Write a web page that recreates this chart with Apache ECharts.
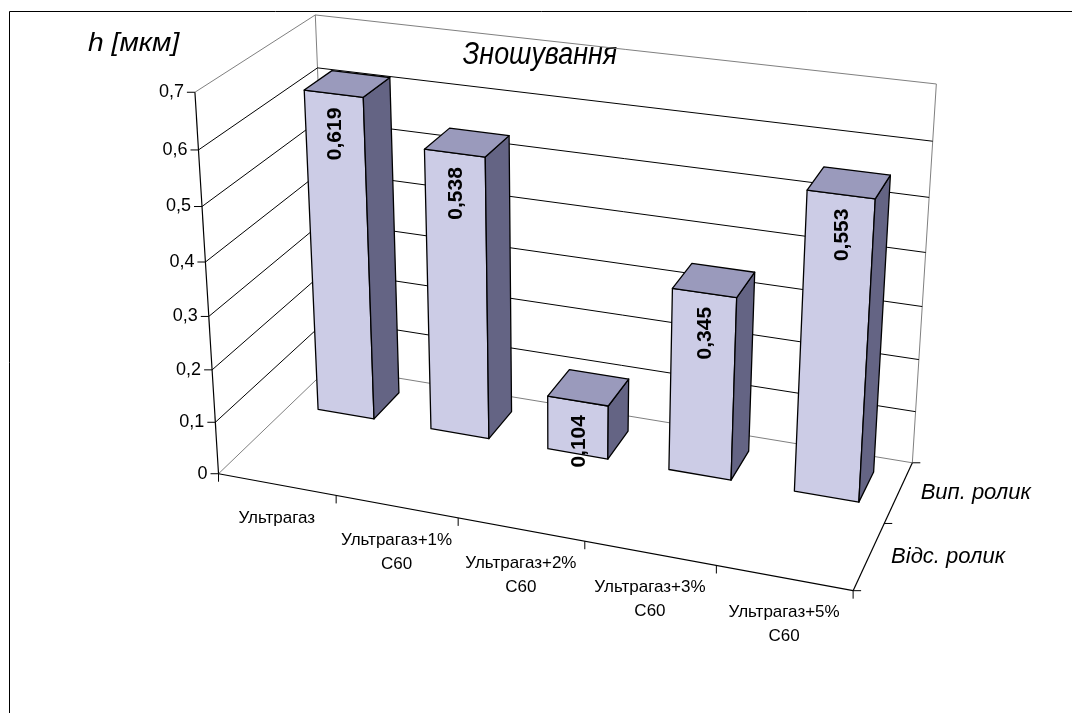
<!DOCTYPE html>
<html>
<head>
<meta charset="utf-8">
<script src="https://cdn.jsdelivr.net/npm/echarts@6/dist/echarts.min.js"></script>
<style>
  html, body { margin: 0; padding: 0; background: #fff; }
  #chart { width: 1072px; height: 713px; }
</style>
</head>
<body>
<div id="chart"></div>
<script>
// ---- data ----
const categories = ['Ультрагаз', 'Ультрагаз+1% C60', 'Ультрагаз+2% C60', 'Ультрагаз+3% C60', 'Ультрагаз+5% C60'];
const rows = ['Відс. ролик', 'Вип. ролик'];
const vypRolyk = [0.619, 0.538, 0.104, 0.345, 0.553];
const valueTicks = [0, 0.1, 0.2, 0.3, 0.4, 0.5, 0.6, 0.7];
const chartTitle = 'Зношування';
const valueAxisName = 'h [мкм]';

// ---- 3D view ----
const Y_MAX = 0.7;
const FONT = '"Liberation Sans", Arial, sans-serif';

// Perspective camera: homogeneous 3x4 matrix acting on (category, value*10, row, 1),
// result in normalised screen units around the chart centre.
const CAM = [
  0.2261451, -0.0004306, 0.0848096, -0.5922936,
  0.0538443, -0.1462515, -0.1487214, 0.3307126,
  -0.0179896, -0.0092152, 0.0491988
];
const CX = 536, CY = 356;

function project(x, v, z) {
  const y = v * 10;
  const w = CAM[8] * x + CAM[9] * y + CAM[10] * z + 1;
  const un = (CAM[0] * x + CAM[1] * y + CAM[2] * z + CAM[3]) / w;
  const vn = (CAM[4] * x + CAM[5] * y + CAM[6] * z + CAM[7]) / w;
  return [un * CX + CX, vn * CY + CY];
}

// bar footprint in category / row units
const BAR_HALF_W = 0.25;
const BAR_HALF_D = 0.25;
const BAR_ROW = 1; // bars stand in the "Вип. ролик" row

const GREY = '#808080';
const nCat = categories.length;
const nRow = rows.length;

function line(p, q, stroke, lw) {
  return { type: 'line', shape: { x1: p[0], y1: p[1], x2: q[0], y2: q[1] }, style: { stroke: stroke, lineWidth: lw || 1 } };
}

// value back from the cartesian value scale
function valueFromCoord(api, cs, v) {
  const p = api.coord([0, v]);
  return (cs.y + cs.height - p[1]) / cs.height * Y_MAX;
}

function fmt(v) { return String(v).replace('.', ','); }

// side and back walls: gridlines, value ticks and labels
function renderValueGrid(params, api) {
  const cs = params.coordSys;
  const v = valueFromCoord(api, cs, api.value(1));
  const edge = (v === 0 || Math.abs(v - Y_MAX) < 1e-9);
  const col = edge ? GREY : '#000';
  const fl = project(0, v, 0), bl = project(0, v, nRow), br = project(nCat, v, nRow);
  const children = [
    line(fl, bl, col, 1),
    line(bl, br, col, 1),
    line([fl[0] - 8, fl[1]], fl, '#000', 1),
    {
      type: 'text', x: fl[0] - 11, y: fl[1],
      style: { text: fmt(api.value(1)), fontSize: 18, fontFamily: FONT, fill: '#000', align: 'right', verticalAlign: 'middle' }
    }
  ];
  if (params.dataIndex === 0) {
    const top = valueFromCoord(api, cs, Y_MAX);
    children.push(line(project(0, 0, nRow), project(0, top, nRow), GREY, 1));
    children.push(line(project(nCat, 0, nRow), project(nCat, top, nRow), GREY, 1));
  }
  return { type: 'group', children: children };
}

// front axis lines
function renderFrontAxes(params, api) {
  const cs = params.coordSys;
  const top = valueFromCoord(api, cs, Y_MAX);
  return {
    type: 'group',
    children: [
      line(project(0, 0, 0), project(0, top, 0), '#000', 1.2),
      line(project(0, 0, 0), project(nCat, 0, 0), '#000', 1.2),
      line(project(nCat, 0, 0), project(nCat, 0, nRow), '#000', 1.2)
    ]
  };
}

// category ticks and labels along the front edge
function renderCategoryAxis(params, api) {
  const i = api.value(0);
  const children = [];
  const t0 = project(i, 0, 0);
  children.push(line(t0, [t0[0], t0[1] + 8], '#000', 1));
  if (i === nCat - 1) {
    const t1 = project(i + 1, 0, 0);
    children.push(line(t1, [t1[0], t1[1] + 8], '#000', 1));
  }
  const c = project(i + 0.5, 0, 0);
  children.push({
    type: 'text', x: c[0], y: c[1] + 22,
    style: {
      text: categories[i].split(' ').join('\n'), fontSize: 17, lineHeight: 24, fontFamily: FONT,
      fill: '#000', align: 'center', verticalAlign: 'top'
    }
  });
  return { type: 'group', children: children };
}

// depth axis ticks and row names
function renderDepthAxis(params, api) {
  const r = params.dataIndex;
  const children = [];
  const t0 = project(nCat, 0, r);
  children.push(line(t0, [t0[0] + 8, t0[1]], '#000', 1));
  if (r === nRow - 1) {
    const t1 = project(nCat, 0, r + 1);
    children.push(line(t1, [t1[0] + 8, t1[1]], '#000', 1));
  }
  const c = project(nCat, 0, r + 0.5);
  children.push({
    type: 'text', x: c[0] + 22, y: c[1] + 1,
    style: { text: rows[r], fontSize: 22, fontStyle: 'italic', fontFamily: FONT, fill: '#000', align: 'left', verticalAlign: 'middle' }
  });
  return { type: 'group', children: children };
}

// one 3D column per category
function renderBar(params, api) {
  const cs = params.coordSys;
  const tp = api.coord([api.value(0), api.value(1)]);
  const xc = (tp[0] - cs.x) / cs.width * nCat;
  const V = (cs.y + cs.height - tp[1]) / cs.height * Y_MAX;
  const x0 = xc - BAR_HALF_W, x1 = xc + BAR_HALF_W;
  const zc = BAR_ROW + 0.5;
  const z0 = zc - BAR_HALF_D, z1 = zc + BAR_HALF_D;
  const P = project;
  const stroke = { stroke: '#000', lineWidth: 1.3, lineJoin: 'round' };
  const front = [P(x0, 0, z0), P(x1, 0, z0), P(x1, V, z0), P(x0, V, z0)];
  const side = [P(x1, 0, z0), P(x1, 0, z1), P(x1, V, z1), P(x1, V, z0)];
  const topF = [P(x0, V, z0), P(x1, V, z0), P(x1, V, z1), P(x0, V, z1)];
  const a = P(x0, V, z0), b = P(x1, V, z0);
  const lx = (a[0] + b[0]) / 2 + 1, ly = (a[1] + b[1]) / 2 + 14;
  return {
    type: 'group',
    children: [
      { type: 'polygon', shape: { points: front }, style: Object.assign({ fill: '#CCCCE6' }, stroke) },
      { type: 'polygon', shape: { points: side }, style: Object.assign({ fill: '#646484' }, stroke) },
      { type: 'polygon', shape: { points: topF }, style: Object.assign({ fill: '#9A9ABC' }, stroke) },
      {
        type: 'text', x: lx, y: ly, rotation: Math.PI / 2,
        style: { text: fmt(api.value(1)), fontSize: 21, fontWeight: 'bold', fontFamily: FONT, fill: '#000', align: 'right', verticalAlign: 'middle' }
      }
    ]
  };
}

const chart = echarts.init(document.getElementById('chart'), null, { renderer: 'canvas' });
chart.setOption({
  animation: false,
  backgroundColor: '#fff',
  grid: { left: 0, top: 0, width: 500, height: 700, show: false },
  xAxis: { type: 'category', data: categories, show: false },
  yAxis: { type: 'value', min: 0, max: Y_MAX, interval: 0.1, show: false },
  graphic: [
    { type: 'rect', shape: { x: 9.5, y: 11.5, width: 1200, height: 900 }, style: { fill: 'none', stroke: '#000', lineWidth: 1 }, silent: true },
    { type: 'text', x: 540, y: 55, scaleX: 0.84, style: { text: chartTitle, fontSize: 32, fontStyle: 'italic', fontFamily: FONT, fill: '#000', align: 'center', verticalAlign: 'middle' } },
    { type: 'text', x: 88, y: 44, scaleX: 1.13, style: { text: valueAxisName, fontSize: 25, fontStyle: 'italic', fontFamily: FONT, fill: '#000', align: 'left', verticalAlign: 'middle' } }
  ],
  series: [
    { type: 'custom', name: 'walls', coordinateSystem: 'cartesian2d', clip: false, z: 1, renderItem: renderValueGrid, data: valueTicks.map(v => [0, v]) },
    { type: 'custom', name: 'axes', coordinateSystem: 'cartesian2d', clip: false, z: 3, renderItem: renderFrontAxes, data: [[0, 0]] },
    { type: 'custom', name: 'categories', coordinateSystem: 'cartesian2d', clip: false, z: 3, renderItem: renderCategoryAxis, data: categories.map((c, i) => [i, 0]) },
    { type: 'custom', name: 'rows', coordinateSystem: 'cartesian2d', clip: false, z: 3, renderItem: renderDepthAxis, data: rows.map(() => [0, 0]) },
    { type: 'custom', name: rows[BAR_ROW], coordinateSystem: 'cartesian2d', clip: false, z: 2, renderItem: renderBar, data: vypRolyk.map((v, i) => [i, v]) }
  ]
});
</script>
</body>
</html>
